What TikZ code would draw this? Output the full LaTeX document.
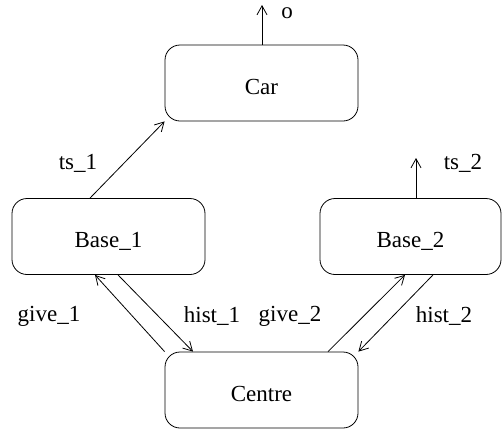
\documentclass[tikz,border=0pt]{standalone}
\usepackage{fontspec}
\setmainfont{Liberation Serif}
\usetikzlibrary{arrows.meta,calc}
\begin{document}
\begin{tikzpicture}[x={(1pt,0)},y={(0,-1pt)},
  box/.style={draw,rounded corners=15pt,line width=0.8pt,inner sep=0pt,minimum width=193pt,minimum height=76pt,text height=22pt,text depth=0pt,font=\fontsize{23}{28}\selectfont},
  conn/.style={line width=0.8pt,-{Straight Barb[length=9pt,width=10pt,line width=0.8pt]}},
  lbl/.style={font=\fontsize{23}{28}\selectfont,inner sep=0pt}]
\useasboundingbox (0,0) rectangle (503,432);
\node[box] (car) at (261.5,83) {Car};
\node[box] (b1) at (108.5,236.5) {Base\_1};
\node[box,minimum width=181pt] (b2) at (410.5,236.5) {Base\_2};
\node[box] (c) at (261.5,390) {Centre};
\coordinate (otop) at (262,5);
\coordinate (ts2top) at (416,158);
\draw[conn] ([xshift=0.5pt]car.north) -- (otop);
\draw[conn] ([xshift=5.5pt]b2.north) -- (ts2top);
\draw[conn] ([xshift=-18.5pt]b1.north) -- (car.south west);
\draw[conn] (c.north west) -- ([xshift=-13.5pt]b1.south);
\draw[conn] ([xshift=9.5pt]b1.south) -- ([xshift=-68.5pt]c.north);
\draw[conn] ([xshift=66.5pt]c.north) -- ([xshift=-5.5pt]b2.south);
\draw[conn] ([xshift=22.5pt]b2.south) -- (c.north east);
\node[lbl] (lo) at (287,13) {o};
\node[lbl] (lts1) at (78,163) {ts\_1};
\node[lbl] (lts2) at (463,163) {ts\_2};
\node[lbl] (lg1) at (49,316) {give\_1};
\node[lbl] (lh1) at (212,316) {hist\_1};
\node[lbl] (lg2) at (290,316) {give\_2};
\node[lbl] (lh2) at (444,316) {hist\_2};
\end{tikzpicture}
\end{document}
